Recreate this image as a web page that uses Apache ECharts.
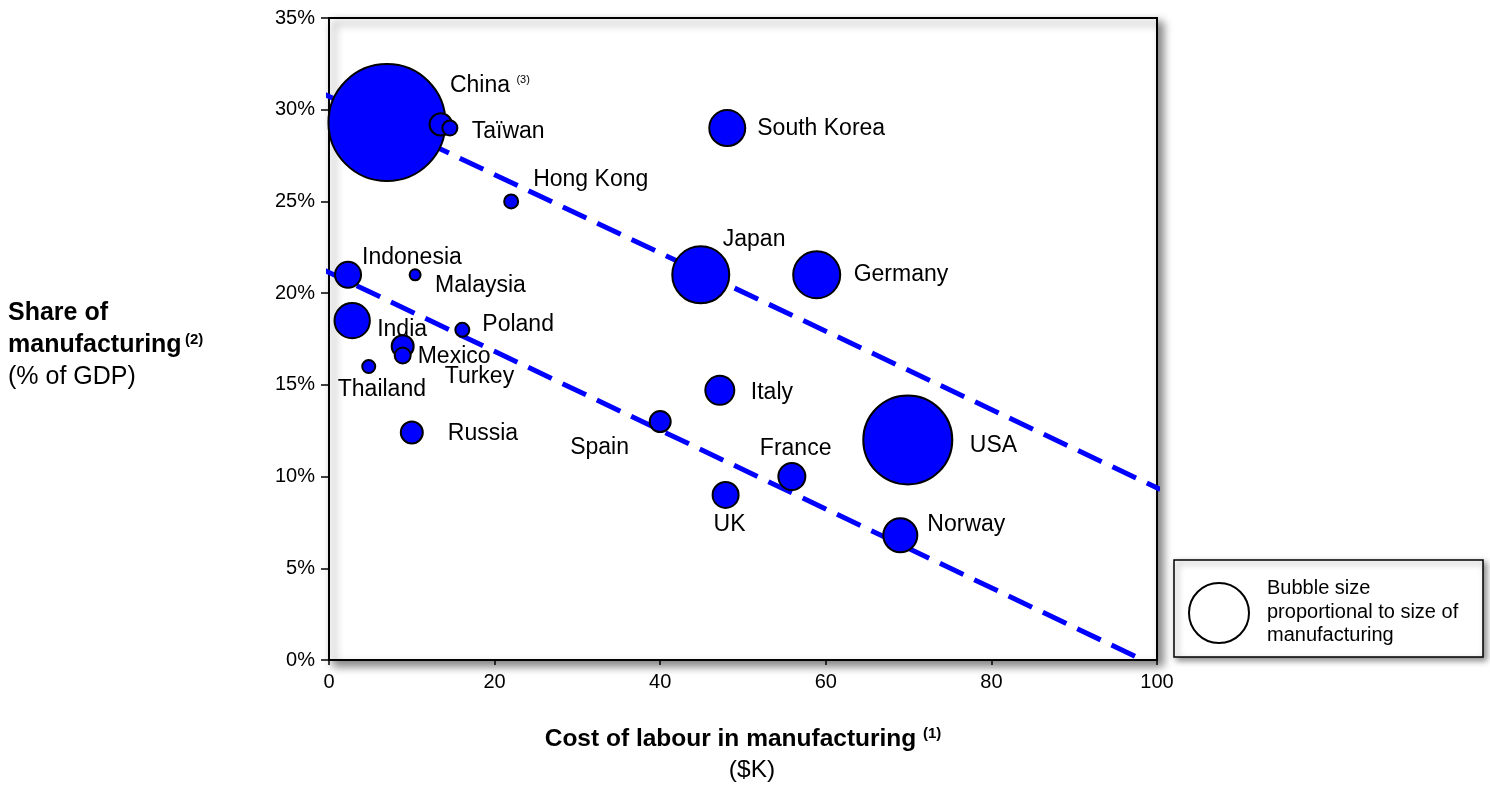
<!DOCTYPE html>
<html>
<head>
<meta charset="utf-8">
<script src="https://cdn.jsdelivr.net/npm/echarts@6/dist/echarts.min.js"></script>
<style>
  html, body { margin: 0; background: #fff; }
  #chart { width: 1490px; height: 785px; }
</style>
</head>
<body>
<div id="chart"></div>
<script>
// data
const countries = ["China", "Taïwan", "", "Hong Kong", "South Korea", "Japan", "Germany",
  "Indonesia", "Malaysia", "India", "Poland", "Mexico", "Turkey", "Thailand", "Russia",
  "Italy", "Spain", "USA", "France", "UK", "Norway"];
const labourCost = [7.0, 13.5, 14.6, 22.0, 48.1, 44.9, 58.9,
  2.3, 10.4, 2.8, 16.1, 8.9, 8.9, 4.8, 10.0,
  47.2, 40.0, 69.9, 55.9, 47.9, 69.0];
const gdpShare = [29.3, 29.2, 29.0, 25.0, 29.0, 21.0, 21.0,
  21.0, 21.0, 18.5, 18.0, 17.1, 16.6, 16.0, 12.4,
  14.7, 13.0, 12.0, 10.0, 9.0, 6.8];
// size of manufacturing (bubble area)
const mfgSize = [3480, 137, 64, 56, 342, 841, 576,
  182, 36, 330, 56, 132, 72, 49, 132,
  225, 121, 2025, 196, 182, 306];
const trendUpper = [[-0.8, 30.9], [100.4, 9.3]];
const trendLower = [[-0.8, 21.3], [98.3, 0]];

// label placement: offset from bubble centre to start of text
const labelOffsets = {
  "China": [64, -39], "Taïwan": [32, 5], "Hong Kong": [23, -24], "South Korea": [31, -1],
  "Japan": [23, -37], "Germany": [38, -2], "Indonesia": [15, -19], "Malaysia": [21, 9],
  "India": [26, 7], "Poland": [21, -7], "Mexico": [16, 8], "Turkey": [43, 19],
  "Thailand": [-30, 21], "Russia": [37, -1], "Italy": [32, 0], "Spain": [-89, 24],
  "USA": [63, 4], "France": [-31, -30], "UK": [-11, 28], "Norway": [28, -13],
};

const font = '"Liberation Sans", Arial, Helvetica, sans-serif';
const blue = "#0000ff";
const bubbleDiameter = (size) => 2 * Math.sqrt(size) - 1;

const chart = echarts.init(document.getElementById("chart"), null, { renderer: "canvas" });

const bubbles = countries.map((name, i) => {
  const off = labelOffsets[name];
  const half = bubbleDiameter(mfgSize[i]) / 2;
  return {
    name,
    value: [labourCost[i], gdpShare[i], mfgSize[i]],
    label: off ? {
      show: true,
      // position is measured from the symbol's top-left corner
      position: [half + off[0], half + off[1] + 3],
      align: "left",
      verticalAlign: "middle",
      formatter: name === "China" ? "{n|China} {s|(3)}" : name,
    } : { show: false },
  };
});

const trendLine = (data) => ({
  type: "line",
  data,
  symbol: "none",
  clip: false,
  silent: true,
  z: 1,
  lineStyle: { color: blue, width: 5, type: [26, 12] },
});

chart.setOption({
  animation: false,
  backgroundColor: "#fff",
  textStyle: { fontFamily: font },
  grid: {
    left: 329, top: 18, width: 828, height: 642,
    show: true,
    backgroundColor: "#fff",
    borderColor: "#000",
    borderWidth: 2,
    shadowColor: "rgba(0,0,0,0.5)",
    shadowBlur: 9,
    shadowOffsetX: 5,
    shadowOffsetY: 5,
  },
  xAxis: {
    type: "value",
    min: 0, max: 100, interval: 20,
    splitLine: { show: false },
    axisLine: { lineStyle: { color: "#000", width: 2 } },
    axisTick: { length: 5, lineStyle: { color: "#000", width: 1.5 } },
    axisLabel: { color: "#000", fontSize: 20, margin: 12, fontFamily: font },
  },
  yAxis: {
    type: "value",
    min: 0, max: 35, interval: 5,
    splitLine: { show: false },
    axisLine: { lineStyle: { color: "#000", width: 2 } },
    axisTick: { length: 8, lineStyle: { color: "#000", width: 1.5 } },
    axisLabel: { color: "#000", fontSize: 20, margin: 14, fontFamily: font, formatter: "{value}%" },
  },
  series: [
    trendLine(trendUpper),
    trendLine(trendLower),
    {
      type: "scatter",
      z: 3,
      data: bubbles,
      symbolSize: (v) => bubbleDiameter(v[2]),
      itemStyle: { color: blue, borderColor: "#000", borderWidth: 2, opacity: 1 },
      label: {
        color: "#000",
        fontSize: 23,
        fontFamily: font,
        rich: {
          n: { fontSize: 23, fontFamily: font, color: "#000" },
          s: { fontSize: 11, fontFamily: font, color: "#000", padding: [0, 0, 12, 0] },
        },
      },
      emphasis: { disabled: true },
    },
  ],
  graphic: [
    {
      type: "text",
      left: 8, top: 301,
      style: {
        text: "{b|Share of}\n{b|manufacturing} {sup|(2)}\n{n|(% of GDP)}",
        rich: {
          b: { fontSize: 25, fontWeight: "bold", fontFamily: font, lineHeight: 32, fill: "#000" },
          sup: { fontSize: 15, fontWeight: "bold", fontFamily: font, padding: [0, 0, 12, 0], fill: "#000" },
          n: { fontSize: 25, fontFamily: font, lineHeight: 32, fill: "#000" },
        },
      },
    },
    {
      type: "text",
      x: 743, y: 724,
      style: {
        text: "{b|Cost of labour in manufacturing}  {sup|(1)}",
        align: "center",
        rich: {
          b: { fontSize: 24.5, fontWeight: "bold", fontFamily: font, lineHeight: 31, fill: "#000" },
          sup: { fontSize: 15, fontWeight: "bold", fontFamily: font, padding: [0, 0, 12, 0], fill: "#000" },
        },
      },
    },
    {
      type: "text",
      x: 752, y: 755,
      style: {
        text: "($K)",
        align: "center",
        fontSize: 24.5, fontFamily: font, lineHeight: 31, fill: "#000",
      },
    },
    {
      type: "rect",
      shape: { x: 1174, y: 560, width: 309, height: 97 },
      style: {
        fill: "#fff", stroke: "#000", lineWidth: 1.5,
        shadowColor: "rgba(0,0,0,0.45)", shadowBlur: 6, shadowOffsetX: 3, shadowOffsetY: 3,
      },
    },
    {
      type: "circle",
      shape: { cx: 1219, cy: 613, r: 30 },
      style: { fill: "#fff", stroke: "#000", lineWidth: 2 },
    },
    {
      type: "text",
      x: 1267, y: 577,
      style: {
        text: "Bubble size\nproportional to size of\nmanufacturing",
        fontSize: 20, fontFamily: font, lineHeight: 23.5, fill: "#000",
      },
    },
  ],
});

window.addEventListener("resize", () => chart.resize());
</script>
</body>
</html>
